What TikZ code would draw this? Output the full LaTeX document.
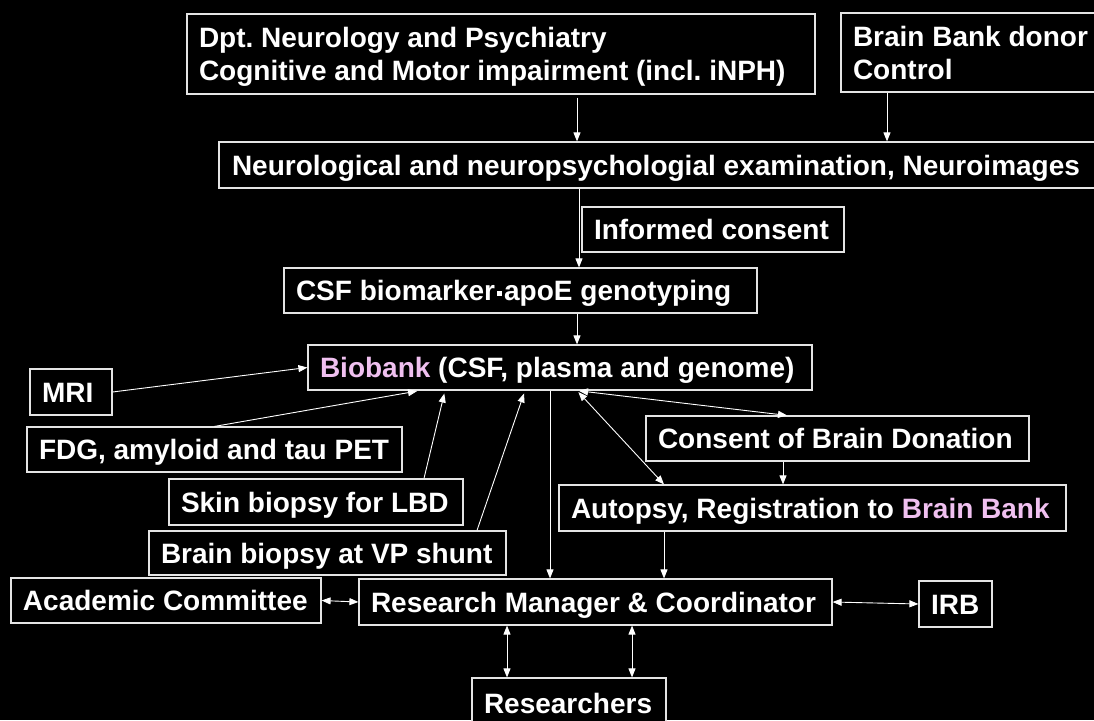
\documentclass[tikz,border=0pt]{standalone}
\usepackage{fontspec}
\setmainfont{Liberation Sans}
\usetikzlibrary{arrows.meta}
\frenchspacing
\definecolor{pinkish}{RGB}{240,192,240}
\definecolor{edgegray}{RGB}{228,228,228}
% a left-aligned line of fixed width inside a box, with a fixed strut
\newcommand\lbox[2]{\makebox[#1][l]{\rule[-6pt]{0pt}{32pt}#2}}
% small middle square used as a separator
\newcommand\midsq{\hspace{2pt}\raisebox{5pt}{\rule{5pt}{5pt}}\hspace{2pt}}
\begin{document}
\begin{tikzpicture}[x=1pt,y=-1pt,
  box/.style={draw=edgegray, line width=1.2pt, fill=black, text=white,
    font=\fontsize{28}{33}\selectfont\bfseries, inner xsep=12pt, inner ysep=0pt,
    align=left, anchor=center},
  arr/.style={draw=white, line width=0.9pt, -{Triangle[length=9pt,width=7pt]}},
  darr/.style={draw=white, line width=0.9pt,
    {Triangle[length=9pt,width=7pt]}-{Triangle[length=9pt,width=7pt]}}]
\useasboundingbox (0,0) rectangle (1094,720);
\fill[black] (0,0) rectangle (1094,720);
\clip (0,0) rectangle (1094,720);

% ---- boxes ----
\node[box, minimum width=628pt, minimum height=80pt] (dpt) at (501,54)
  {\lbox{604pt}{Dpt. Neurology and Psychiatry}\\\lbox{604pt}{Cognitive and Motor impairment (incl. iNPH)}};
\node[box, minimum width=263pt, minimum height=79pt] (bbd) at (972.5,52.5)
  {\lbox{239pt}{Brain Bank donor}\\\lbox{239pt}{Control}};
\node[box, minimum width=881pt, minimum height=46pt] (neuro) at (659.5,165)
  {\lbox{857pt}{\hspace{1pt}Neurological and neuropsychologial examination, Neuroimages}};
\node[box, minimum width=262pt, minimum height=45pt] (ic) at (713,229.5)
  {\lbox{238pt}{Informed consent}};
\node[box, minimum width=473pt, minimum height=45pt] (csf) at (520.5,290.5)
  {\lbox{449pt}{CSF biomarker\midsq apoE genotyping}};
\node[box, minimum width=504pt, minimum height=45pt] (bio) at (560,367.5)
  {\lbox{480pt}{\textcolor{pinkish}{Biobank} (CSF, plasma and genome)}};
\node[box, minimum width=82pt, minimum height=46pt] (mri) at (71,392)
  {\lbox{58pt}{MRI}};
\node[box, minimum width=375pt, minimum height=45pt] (fdg) at (214.5,449.5)
  {\lbox{351pt}{FDG, amyloid and tau PET}};
\node[box, minimum width=294pt, minimum height=46pt] (skin) at (316,502)
  {\lbox{270pt}{Skin biopsy for LBD}};
\node[box, minimum width=357pt, minimum height=44pt] (brainbx) at (327.5,553)
  {\lbox{333pt}{Brain biopsy at VP shunt}};
\node[box, minimum width=383pt, minimum height=45pt] (cons) at (837.5,438.5)
  {\lbox{359pt}{Consent of Brain Donation}};
\node[box, minimum width=507pt, minimum height=46pt] (aut) at (812.5,508)
  {\lbox{483pt}{Autopsy, Registration to \textcolor{pinkish}{Brain Bank}}};
\node[box, minimum width=310pt, minimum height=45pt] (ac) at (166,600.5)
  {\lbox{286pt}{Academic Committee}};
\node[box, minimum width=473pt, minimum height=46pt] (rm) at (595.5,602)
  {\lbox{449pt}{Research Manager \& Coordinator}};
\node[box, minimum width=73pt, minimum height=46pt] (irb) at (955.5,604)
  {\lbox{49pt}{IRB}};
\node[box, minimum width=194pt, minimum height=50pt] (res) at (569,703)
  {\lbox{170pt}{Researchers}};

% ---- connectors ----
\draw[arr] ([xshift=76pt,yshift=-3pt]dpt.south) -- ([xshift=-82.5pt]neuro.north);
\draw[arr] ([xshift=-85.5pt]bbd.south) -- ([xshift=227.5pt]neuro.north);
\draw[arr] ([xshift=-80.5pt]neuro.south) -- ([xshift=58.5pt]csf.north);
\draw[arr] ([xshift=56.5pt]csf.south) -- ([xshift=17pt]bio.north);
\draw[arr] (mri.east) -- (bio.west);
\draw[arr, shorten >=3pt] (fdg.north) -- ([xshift=-140pt]bio.south);
\draw[arr, shorten >=3pt] ([xshift=108pt]skin.north) -- ([xshift=-115pt]bio.south);
\draw[arr, shorten >=3pt] ([xshift=149.5pt]brainbx.north) -- ([xshift=-35pt]bio.south);
\draw[arr] ([xshift=-10pt]bio.south) -- ([xshift=-45.5pt]rm.north);
\draw[darr, shorten <=2pt] ([xshift=17pt]bio.south) -- ([xshift=-50.5pt]cons.north);
\draw[darr, shorten <=2pt] ([xshift=17pt]bio.south) -- ([xshift=-148.5pt]aut.north);
\draw[arr] ([xshift=-54.5pt]cons.south) -- ([xshift=-29.5pt]aut.north);
\draw[arr] ([xshift=-148.5pt]aut.south) -- ([xshift=68.5pt]rm.north);
\draw[darr] (ac.east) -- (rm.west);
\draw[darr] (rm.east) -- (irb.west);
\draw[darr] ([xshift=-88.5pt]rm.south) -- ([xshift=-62pt]res.north);
\draw[darr] ([xshift=36.5pt]rm.south) -- ([xshift=63pt]res.north);
\end{tikzpicture}
\end{document}
